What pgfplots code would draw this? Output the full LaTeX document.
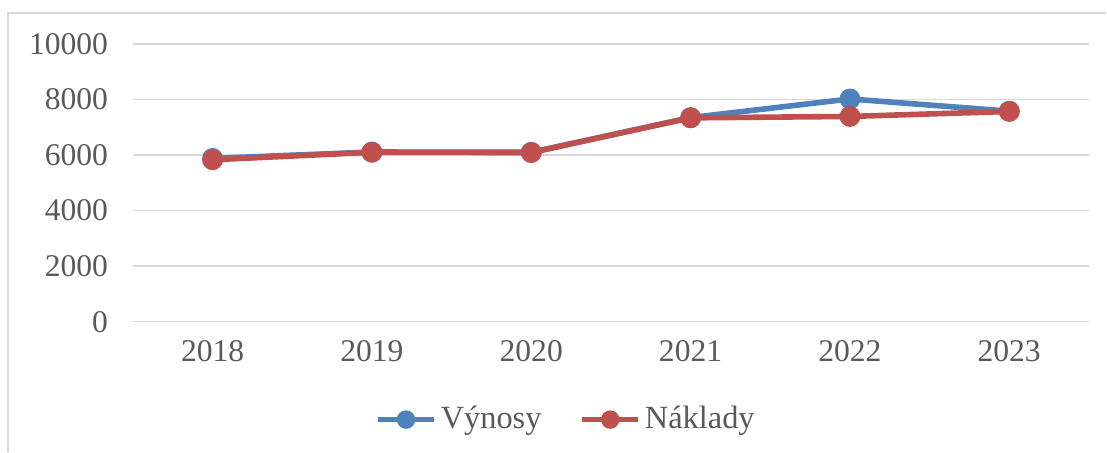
\documentclass[border=0pt]{standalone}
\usepackage{pgfplots}
\pgfplotsset{compat=1.18}
\usepackage{fontspec}
\setmainfont{Liberation Serif}
\definecolor{vyn}{HTML}{4F81BD}
\definecolor{nak}{HTML}{C0504D}
\definecolor{txt}{HTML}{595959}
\definecolor{grd}{HTML}{D9D9D9}
\begin{document}
\fontsize{15.8bp}{19bp}\selectfont
\begin{tikzpicture}
\begin{axis}[
  scale only axis,
  width=478.5bp, height=139bp,
  xmin=2017.5, xmax=2023.5,
  ymin=0, ymax=10000,
  xtick={2018,...,2023},
  xticklabels={2018,2019,2020,2021,2022,2023},
  ytick={0,2000,...,10000},
  scaled y ticks=false,
  /pgf/number format/assume math mode=true,
  yticklabel style={/pgf/number format/1000 sep={}},
  tick style={draw=none},
  axis line style={draw=none},
  ymajorgrids,
  grid style={grd, line width=0.8bp},
  ticklabel style={font=\fontsize{15.8bp}{19bp}\selectfont, text=txt},
  yticklabel style={xshift=-7bp},
  xticklabel style={yshift=-4bp},
  legend style={at={(0.454,-0.3525)}, anchor=center, draw=none, fill=none,
    legend columns=2, font=\fontsize{16.2bp}{19bp}\selectfont, text=txt,
    /tikz/every even column/.append style={column sep=17bp}},
  legend cell align=left,
  legend image code/.code={
    \draw[#1, mark size=3.2bp, mark repeat=2, mark phase=2] plot coordinates {(0bp,0bp) (14bp,0bp) (28bp,0bp)};
  },
  clip=false,
]
\addplot[vyn, line width=2.8bp, mark=*, mark size=3.8bp, mark options={solid}] coordinates {
 (2018,5880) (2019,6110) (2020,6100) (2021,7350) (2022,8020) (2023,7580)};
\addlegendentry{Výnosy}
\addplot[nak, line width=2.8bp, mark=*, mark size=3.8bp, mark options={solid}] coordinates {
 (2018,5830) (2019,6100) (2020,6090) (2021,7340) (2022,7390) (2023,7570)};
\addlegendentry{Náklady}
\draw[grd, line width=1bp] (rel axis cs:-0.1306,-0.4676) -- (rel axis cs:-0.1306,1.1115) -- (rel axis cs:1.0178,1.1115);
\useasboundingbox (rel axis cs:-0.139,-0.4676) rectangle (rel axis cs:1.0178,1.1583);
\end{axis}
\end{tikzpicture}
\end{document}
